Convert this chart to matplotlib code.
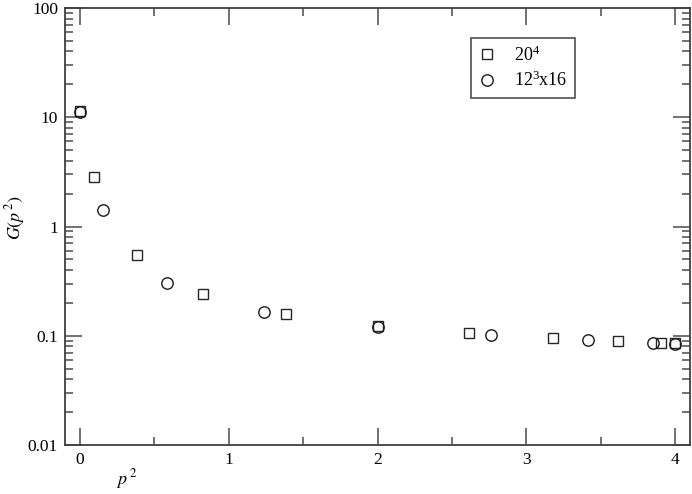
import matplotlib
matplotlib.use("Agg")
import matplotlib.pyplot as plt
from matplotlib.ticker import LogLocator, MultipleLocator, NullFormatter, FixedLocator, FixedFormatter

plt.rcParams['font.family'] = ['Liberation Serif', 'DejaVu Serif']
plt.rcParams['mathtext.fontset'] = 'stix'

# 20^4 lattice
p2_20 = [0.0, 0.0979, 0.382, 0.824, 1.382, 2.0, 2.618, 3.176, 3.618, 3.902, 4.0]
G_20 = [11.4, 2.84, 0.548, 0.241, 0.158, 0.123, 0.106, 0.095, 0.0895, 0.086, 0.085]

# 12^3x16 lattice
p2_12 = [0.0, 0.152, 0.586, 1.235, 2.0, 2.765, 3.414, 3.848, 4.0]
G_12 = [11.2, 1.42, 0.304, 0.165, 0.120, 0.1016, 0.0914, 0.085, 0.084]

ytick_vals = [0.01, 0.1, 1, 10, 100]
ytick_labels = ["0.01", "0.1", "1", "10", "100"]
xtick_vals = [0, 1, 2, 3, 4]

W, H = 692, 494
fig = plt.figure(figsize=(W/100, H/100), dpi=100)
ax = fig.add_axes([65/W, 1-445/H, (690-65)/W, (445-8)/H])

ax.plot(p2_20, G_20, linestyle='none', marker='s', ms=6.5, mfc='none',
        mec='0.15', mew=1.0, label=r'$\mathregular{20^4}$')
ax.plot(p2_12, G_12, linestyle='none', marker='o', ms=8.2, mfc='none',
        mec='0.1', mew=1.0, label=r'$\mathregular{12^3x16}$')

ax.set_yscale('log')
ax.set_xlim(-0.1, 4.1)
ax.set_ylim(0.01, 100)

ax.yaxis.set_major_locator(FixedLocator(ytick_vals))
ax.yaxis.set_major_formatter(FixedFormatter(ytick_labels))
ax.yaxis.set_minor_locator(LogLocator(base=10, subs=range(2, 10), numticks=20))
ax.yaxis.set_minor_formatter(NullFormatter())
ax.xaxis.set_major_locator(FixedLocator(xtick_vals))
ax.xaxis.set_minor_locator(MultipleLocator(0.5))

for sp in ax.spines.values():
    sp.set_color('0.25')
    sp.set_linewidth(1.3)

ax.tick_params(which='major', direction='in', length=12, width=1.3, color='0.4',
               top=True, right=True, labelsize=12.5, pad=5)
ax.tick_params(which='minor', direction='in', length=6, width=1.3, color='0.4',
               top=True, right=True)

ax.set_xlabel(r'$p^{\,2}$', fontsize=13)
ax.xaxis.set_label_coords((127-65)/(690-65), -0.05)
ax.set_ylabel(r'$G(p^{\,2})$', fontsize=13)
ax.yaxis.set_label_coords((27-65)/(690-65), 0.52)

leg = ax.legend(loc='upper left', bbox_to_anchor=(471/W, 1-38/H),
                bbox_transform=fig.transFigure, fontsize=13, frameon=True,
                fancybox=False, handlelength=1.0, handletextpad=1.0,
                borderpad=0.4, labelspacing=0.35, borderaxespad=0)
leg.get_frame().set_edgecolor('0.2')
leg.get_frame().set_linewidth(1.3)

fig.savefig('out.png', dpi=100)
